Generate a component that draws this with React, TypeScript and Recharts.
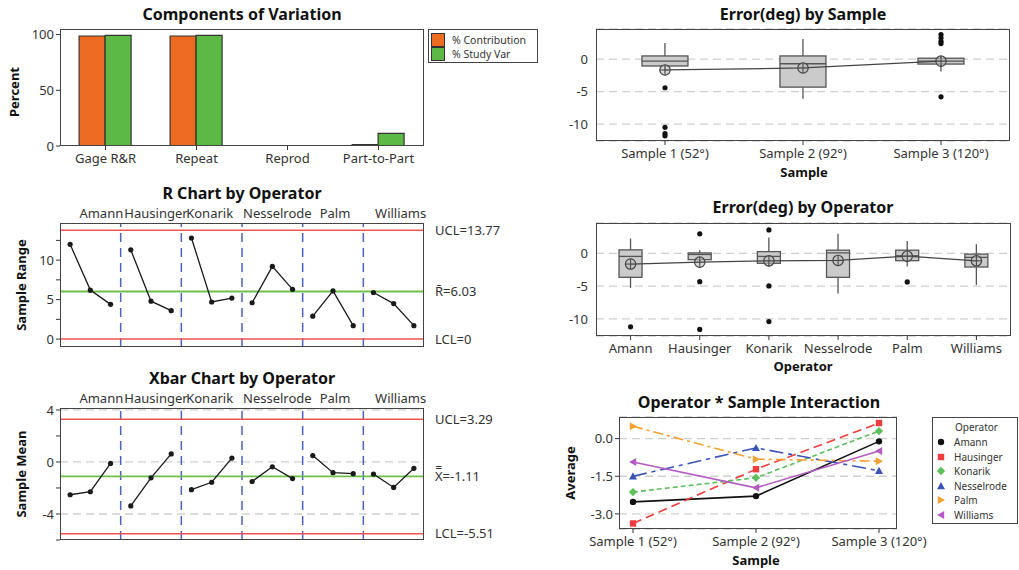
import React from 'react'
import { Bar, BarChart, CartesianGrid, ComposedChart, Line, LineChart, ReferenceLine, Scatter, XAxis, YAxis } from 'recharts'

const FONT = '"Noto Sans", "DejaVu Sans", sans-serif'
const INK = '#333'
const GRID = '#cfcfcf'
const RED = '#f05252'
const GREEN = '#6cc04a'
const SEP = '#4a62c4'

// components of variation
const sources = ['Gage R&R', 'Repeat', 'Reprod', 'Part-to-Part']
const pctContribution = [98.7, 98.7, 0, 1.3]
const pctStudyVar = [99.35, 99.35, 0, 11.4]

const operators = ['Amann', 'Hausinger', 'Konarik', 'Nesselrode', 'Palm', 'Williams']
const samples = ['Sample 1 (52°)', 'Sample 2 (92°)', 'Sample 3 (120°)']

// mean of each operator x sample cell
const amannMean = [-2.52, -2.29, -0.11]
const hausingerMean = [-3.38, -1.22, 0.62]
const konarikMean = [-2.13, -1.56, 0.3]
const nesselrodeMean = [-1.5, -0.37, -1.28]
const palmMean = [0.49, -0.82, -0.9]
const williamsMean = [-0.93, -1.96, -0.49]

// range of each operator x sample cell
const amannRange = [12.0, 6.2, 4.4]
const hausingerRange = [11.3, 4.8, 3.6]
const konarikRange = [12.8, 4.7, 5.2]
const nesselrodeRange = [4.6, 9.2, 6.3]
const palmRange = [2.9, 6.1, 1.7]
const williamsRange = [5.9, 4.5, 1.7]

const rUCL = 13.77, rBar = 6.03, rLCL = 0
const xUCL = 3.29, xBar = -1.11, xLCL = -5.51

// box plot stats by sample
const sampleLo = [-2.0, -6.1, -1.9]
const sampleQ1 = [-1.05, -4.3, -0.75]
const sampleMed = [-0.3, -0.7, -0.3]
const sampleQ3 = [0.5, 0.5, 0.15]
const sampleHi = [2.5, 3.1, 0.5]
const sampleAvg = [-1.66, -1.35, -0.3]
const sampleOutliers = [[-4.4, -10.5, -11.45, -11.8], [], [3.8, 3.3, 2.75, 2.4, -5.8]]

// box plot stats by operator
const opLo = [-5.25, -1.5, -2.0, -6.1, -2.0, -4.8]
const opQ1 = [-3.64, -0.95, -1.5, -3.64, -1.1, -2.07]
const opMed = [-0.45, -0.15, -0.45, 0.1, -0.35, -0.6]
const opQ3 = [0.55, 0.08, 0.28, 0.5, 0.5, -0.1]
const opHi = [2.3, 0.5, 2.45, 3.0, 1.9, 1.4]
const opAvg = [-1.62, -1.33, -1.13, -1.07, -0.42, -1.12]
const opOutliers = [[-11.2], [3.0, -4.3, -11.6], [3.6, -4.95, -10.4], [], [-4.35], []]

// series styling
const opColors = ['#111111', '#f03c3c', '#5dbf5d', '#3a54b8', '#f5a030', '#b45cc4']
const opDashes = ['', '9 5', '5 3', '14 5 4 5', '10 4 3 4', '']
const opMarkers = ['circle', 'square', 'diamond', 'up', 'right', 'left']
const opLabelNudge = [11, 5, -2, 5, 2, 7]

const groupSize = samples.length
const meanByOperator = [amannMean, hausingerMean, konarikMean, nesselrodeMean, palmMean, williamsMean]
const rangeByOperator = [amannRange, hausingerRange, konarikRange, nesselrodeRange, palmRange, williamsRange]

const toRows = (series: number[][]) =>
  series.flatMap((vals, g) => vals.map((v, s) => ({ idx: g * groupSize + s, [operators[g]]: v })))
const xbarRows = toRows(meanByOperator)
const rRows = toRows(rangeByOperator)
const interactionRows = samples.map((name, s) => ({
  name,
  ...Object.fromEntries(operators.map((op, g) => [op, meanByOperator[g][s]])),
}))
const covRows = sources.map((name, i) => ({ name, contribution: pctContribution[i], studyVar: pctStudyVar[i] }))

const outlierKeys = ['o0', 'o1', 'o2', 'o3', 'o4']
function boxRows(names: string[], lo: number[], q1: number[], med: number[], q3: number[], hi: number[], avg: number[], out: number[][]) {
  return names.map((name, i) => ({
    name,
    range: [lo[i], hi[i]],
    lo: lo[i], q1: q1[i], med: med[i], q3: q3[i], hi: hi[i], avg: avg[i],
    ...Object.fromEntries(out[i].map((v, k) => ['o' + k, v])),
  }))
}
const sampleBoxes = boxRows(samples, sampleLo, sampleQ1, sampleMed, sampleQ3, sampleHi, sampleAvg, sampleOutliers)
const operatorBoxes = boxRows(operators, opLo, opQ1, opMed, opQ3, opHi, opAvg, opOutliers)

const tick = { fill: INK, fontSize: 13, fontFamily: FONT }

function Place({ x, y, children }: any) {
  return <div style={{ position: 'absolute', left: x, top: y }}>{children}</div>
}

function Title({ x, y, text }: any) {
  return (
    <div style={{ position: 'absolute', left: x, top: y - 10, transform: 'translateX(-50%)', fontSize: 16, fontWeight: 700, lineHeight: '20px', whiteSpace: 'nowrap', color: '#111' }}>
      {text}
    </div>
  )
}

function AxisTitle({ x, y, text, vertical }: any) {
  return (
    <div style={{ position: 'absolute', left: x, top: y, transform: `translate(-50%, -50%)${vertical ? ' rotate(-90deg)' : ''}`, fontSize: 13, fontWeight: 700, lineHeight: '16px', whiteSpace: 'nowrap', color: '#111' }}>
      {text}
    </div>
  )
}

function Frame({ x1, y1, x2, y2 }: any) {
  return <div style={{ position: 'absolute', left: x1, top: y1, width: x2 - x1, height: y2 - y1, border: '1.5px solid #444', boxSizing: 'border-box', pointerEvents: 'none' }} />
}

function Marker({ shape, cx, cy, color }: any) {
  if (cx == null || cy == null) return <g />
  const s = 3.2
  if (shape === 'circle') return <circle cx={cx} cy={cy} r={s} fill={color} />
  if (shape === 'square') return <rect x={cx - s} y={cy - s} width={2 * s} height={2 * s} fill={color} />
  if (shape === 'diamond') {
    const d = s * 1.3
    return <polygon points={`${cx},${cy - d} ${cx + d},${cy} ${cx},${cy + d} ${cx - d},${cy}`} fill={color} />
  }
  const d = s * 1.25
  if (shape === 'up') return <polygon points={`${cx},${cy - d} ${cx + d},${cy + d * 0.8} ${cx - d},${cy + d * 0.8}`} fill={color} />
  if (shape === 'right') return <polygon points={`${cx + d},${cy} ${cx - d * 0.8},${cy - d} ${cx - d * 0.8},${cy + d}`} fill={color} />
  return <polygon points={`${cx - d},${cy} ${cx + d * 0.8},${cy - d} ${cx + d * 0.8},${cy + d}`} fill={color} />
}

function BoxShape(props: any) {
  const { x, y, width, height, payload } = props
  if (!payload || !isFinite(y) || !isFinite(height)) return <g />
  const top = Math.min(y, y + height)
  const bottom = Math.max(y, y + height)
  const ppu = (bottom - top) / (payload.hi - payload.lo)
  const py = (v: number) => top + (payload.hi - v) * ppu
  const cx = x + width / 2
  return (
    <g>
      <line x1={cx} x2={cx} y1={top} y2={bottom} stroke="#555" strokeWidth={1.3} />
      <rect x={x} y={py(payload.q3)} width={width} height={py(payload.q1) - py(payload.q3)} fill="#cbcbcb" stroke="#555" strokeWidth={1.3} />
      <line x1={x} x2={x + width} y1={py(payload.med)} y2={py(payload.med)} stroke="#555" strokeWidth={1.3} />
    </g>
  )
}

function MeanDot(props: any) {
  const { cx, cy } = props
  if (cx == null || cy == null) return <g />
  const r = 5.2
  return (
    <g>
      <circle cx={cx} cy={cy} r={r} fill="#bdbdbd" fillOpacity={0.6} stroke="#444" strokeWidth={1.2} />
      <line x1={cx - r} x2={cx + r} y1={cy} y2={cy} stroke="#444" strokeWidth={1} />
      <line x1={cx} x2={cx} y1={cy - r} y2={cy + r} stroke="#444" strokeWidth={1} />
    </g>
  )
}

const outlierShape = (key: string) => (p: any) =>
  p.payload?.[key] == null || p.cy == null ? <g /> : <circle cx={p.cx} cy={p.cy} r={2.6} fill="#111" />

function BoxPlot({ data, width, height, margin }: any) {
  return (
    <ComposedChart width={width} height={height} data={data} margin={margin} barCategoryGap="33.3%">
      <CartesianGrid vertical={false} stroke={GRID} strokeDasharray="8 5" strokeWidth={1.3} />
      <XAxis dataKey="name" interval={0} tick={tick} tickSize={4} tickMargin={4} tickLine={{ stroke: INK }} axisLine={false} height={20} />
      <YAxis domain={[-12.6, 4.65]} ticks={[-10, -5, 0]} width={40} tick={tick} tickLine={false} tickSize={6} tickMargin={2} axisLine={false} allowDataOverflow />
      <Bar dataKey="range" shape={BoxShape} isAnimationActive={false} />
      <Line dataKey="avg" stroke="#444" strokeWidth={1.2} dot={MeanDot} activeDot={false} isAnimationActive={false} />
      {outlierKeys.map((k) => (
        <Scatter key={k} dataKey={k} shape={outlierShape(k)} isAnimationActive={false} />
      ))}
    </ComposedChart>
  )
}

const separatorX = operators.slice(1).map((_, g) => (g + 1) * groupSize - 0.5)
const limitLabel = { position: 'right' as const, offset: 11, fill: INK, fontSize: 13, fontFamily: FONT }

function OperatorChart({ data, ucl, cl, lcl, clText, domain, ticks, labelled, grid, height, marginTop, marginBottom }: any) {
  return (
    <LineChart width={520} height={height} data={data} margin={{ top: marginTop, right: 96, bottom: marginBottom, left: 20 }}>
      {grid && <CartesianGrid vertical={false} horizontalValues={grid} stroke={GRID} strokeDasharray="8 5" strokeWidth={1.3} />}
      <XAxis type="number" dataKey="idx" domain={[-0.5, operators.length * groupSize - 0.5]} hide allowDataOverflow />
      <YAxis
        domain={domain}
        ticks={ticks}
        tickFormatter={(v: number) => (labelled.includes(v) ? String(v) : '')}
        width={40}
        tick={tick}
        tickSize={4}
        tickMargin={2}
        tickLine={{ stroke: INK }}
        axisLine={false}
        allowDataOverflow
      />
      {separatorX.map((x) => (
        <ReferenceLine key={'sep' + x} x={x} stroke={SEP} strokeWidth={1.5} strokeDasharray="9 6" />
      ))}
      {operators.map((op, g) => (
        <ReferenceLine
          key={'lab' + op}
          x={g * groupSize + (groupSize - 1) / 2}
          stroke="none"
          label={(p: any) =>
            p.viewBox ? (
              <text x={p.viewBox.x + opLabelNudge[g]} y={p.viewBox.y - 5} textAnchor="middle" fill={INK} fontSize={13} fontFamily={FONT}>
                {op}
              </text>
            ) : null
          }
        />
      ))}
      <ReferenceLine y={ucl} stroke={RED} strokeWidth={1.5} label={{ ...limitLabel, value: `UCL=${ucl}` }} />
      <ReferenceLine y={cl} stroke={GREEN} strokeWidth={1.8} label={{ ...limitLabel, value: clText }} />
      <ReferenceLine y={lcl} stroke={RED} strokeWidth={1.5} label={{ ...limitLabel, value: `LCL=${lcl}` }} />
      {operators.map((op) => (
        <Line key={op} dataKey={op} stroke="#1a1a1a" strokeWidth={1.3} dot={{ r: 2.6, fill: '#1a1a1a', stroke: 'none' }} activeDot={false} isAnimationActive={false} />
      ))}
    </LineChart>
  )
}

export default function App() {
  return (
    <div style={{ position: 'absolute', left: 0, top: 0, width: 1019, height: 570, background: '#fff', fontFamily: FONT, color: INK, overflow: 'hidden' }}>
      {/* Components of variation */}
      <Place x={0} y={0}>
        <BarChart width={430} height={180} data={covRows} margin={{ top: 29, right: 6, bottom: 4, left: 20 }} barCategoryGap="21%" barGap={0}>
          <XAxis dataKey="name" interval={0} tick={tick} tickSize={4} tickMargin={4} tickLine={{ stroke: INK }} axisLine={false} height={30} />
          <YAxis domain={[0, 105]} ticks={[0, 50, 100]} width={40} tick={tick} tickSize={4} tickMargin={2} tickLine={{ stroke: INK }} axisLine={false} allowDataOverflow />
          <Bar dataKey="contribution" name="% Contribution" fill="#ee6b22" stroke="#333" strokeWidth={1.2} isAnimationActive={false} />
          <Bar dataKey="studyVar" name="% Study Var" fill="#5db946" stroke="#333" strokeWidth={1.2} isAnimationActive={false} />
        </BarChart>
      </Place>
      <Frame x1={60} y1={29} x2={424} y2={146} />
      <Title x={242} y={14} text="Components of Variation" />
      <AxisTitle x={14} y={92} text="Percent" vertical />
      <div style={{ position: 'absolute', left: 428, top: 29, width: 110, height: 34, border: '1.5px solid #444', boxSizing: 'border-box', fontSize: 10.5 }}>
        {[
          ['% Contribution', '#ee6b22'],
          ['% Study Var', '#5db946'],
        ].map(([label, color], i) => (
          <div key={label} style={{ position: 'absolute', left: 2, top: 3 + i * 14, height: 14, display: 'flex', alignItems: 'center', whiteSpace: 'nowrap' }}>
            <div style={{ width: 14, height: 14, boxSizing: 'border-box', background: color, border: '1.2px solid #333' }} />
            <span style={{ marginLeft: 7 }}>{label}</span>
          </div>
        ))}
      </div>

      {/* R chart */}
      <Place x={0} y={200}>
        <OperatorChart
          data={rRows}
          ucl={rUCL}
          cl={rBar}
          lcl={rLCL}
          clText={`R\u0304=${rBar}`}
          domain={[-1, 14.7]}
          ticks={[0, 2.5, 5, 7.5, 10, 12.5]}
          labelled={[0, 5, 10]}
          height={160}
          marginTop={23}
          marginBottom={13}
        />
      </Place>
      <Frame x1={60} y1={223} x2={424} y2={347} />
      <Title x={242} y={193} text="R Chart by Operator" />
      <AxisTitle x={21} y={285} text="Sample Range" vertical />

      {/* Xbar chart */}
      <Place x={0} y={385}>
        <OperatorChart
          data={xbarRows}
          ucl={xUCL}
          cl={xBar}
          lcl={xLCL}
          clText={`X\u033F=${xBar}`}
          domain={[-6, 4.15]}
          ticks={[-6, -4, -2, 0, 2, 4]}
          labelled={[-4, 0, 4]}
          grid={[-4, 0, 4]}
          height={170}
          marginTop={23}
          marginBottom={15}
        />
      </Place>
      <Frame x1={60} y1={408} x2={424} y2={540} />
      <Title x={242} y={378} text="Xbar Chart by Operator" />
      <AxisTitle x={21} y={474} text="Sample Mean" vertical />

      {/* By sample */}
      <Place x={520} y={25}>
        <BoxPlot data={sampleBoxes} width={499} height={160} margin={{ top: 4, right: 9, bottom: 24, left: 36 }} />
      </Place>
      <Frame x1={596} y1={29} x2={1010} y2={141} />
      <Title x={803} y={14} text="Error(deg) by Sample" />
      <AxisTitle x={804} y={172} text="Sample" />

      {/* By operator */}
      <Place x={520} y={215}>
        <BoxPlot data={operatorBoxes} width={499} height={150} margin={{ top: 8, right: 8, bottom: 9, left: 36 }} />
      </Place>
      <Frame x1={596} y1={223} x2={1011} y2={336} />
      <Title x={803} y={207} text="Error(deg) by Operator" />
      <AxisTitle x={803} y={366} text="Operator" />

      {/* Interaction */}
      <Place x={520} y={412}>
        <LineChart width={420} height={150} data={interactionRows} margin={{ top: 5, right: 43, bottom: 13, left: 59 }}>
          <CartesianGrid vertical={false} stroke={GRID} strokeDasharray="8 5" strokeWidth={1.3} />
          <XAxis dataKey="name" interval={0} padding={{ left: 14, right: 18 }} tick={tick} tickSize={4} tickMargin={4} tickLine={{ stroke: INK }} axisLine={false} height={20} />
          <YAxis
            domain={[-3.6, 0.86]}
            ticks={[-3, -1.5, 0]}
            tickFormatter={(v: number) => v.toFixed(1)}
            width={40}
            tick={tick}
            tickSize={4}
            tickMargin={2}
            tickLine={{ stroke: INK }}
            axisLine={false}
            allowDataOverflow
          />
          {operators.map((op, g) => (
            <Line
              key={op}
              dataKey={op}
              stroke={opColors[g]}
              strokeWidth={1.6}
              strokeDasharray={opDashes[g] || undefined}
              dot={(p: any) => <Marker key={op + p.index} shape={opMarkers[g]} cx={p.cx} cy={p.cy} color={opColors[g]} />}
              activeDot={false}
              isAnimationActive={false}
            />
          ))}
        </LineChart>
      </Place>
      <Frame x1={619} y1={417} x2={897} y2={529} />
      <Title x={759} y={402} text="Operator * Sample Interaction" />
      <AxisTitle x={570} y={473} text="Average" vertical />
      <AxisTitle x={756} y={560} text="Sample" />
      <div style={{ position: 'absolute', left: 932, top: 417, width: 86, height: 107, border: '1.5px solid #444', boxSizing: 'border-box', fontSize: 10 }}>
        <div style={{ position: 'absolute', left: 22, top: 2, lineHeight: '14px' }}>Operator</div>
        {operators.map((op, g) => (
          <div key={op} style={{ position: 'absolute', left: 2, top: 17 + g * 14.5, height: 14, display: 'flex', alignItems: 'center', whiteSpace: 'nowrap' }}>
            <svg width={12} height={12}>
              <Marker shape={opMarkers[g]} cx={6} cy={6} color={opColors[g]} />
            </svg>
            <span style={{ marginLeft: 7 }}>{op}</span>
          </div>
        ))}
      </div>
    </div>
  )
}
